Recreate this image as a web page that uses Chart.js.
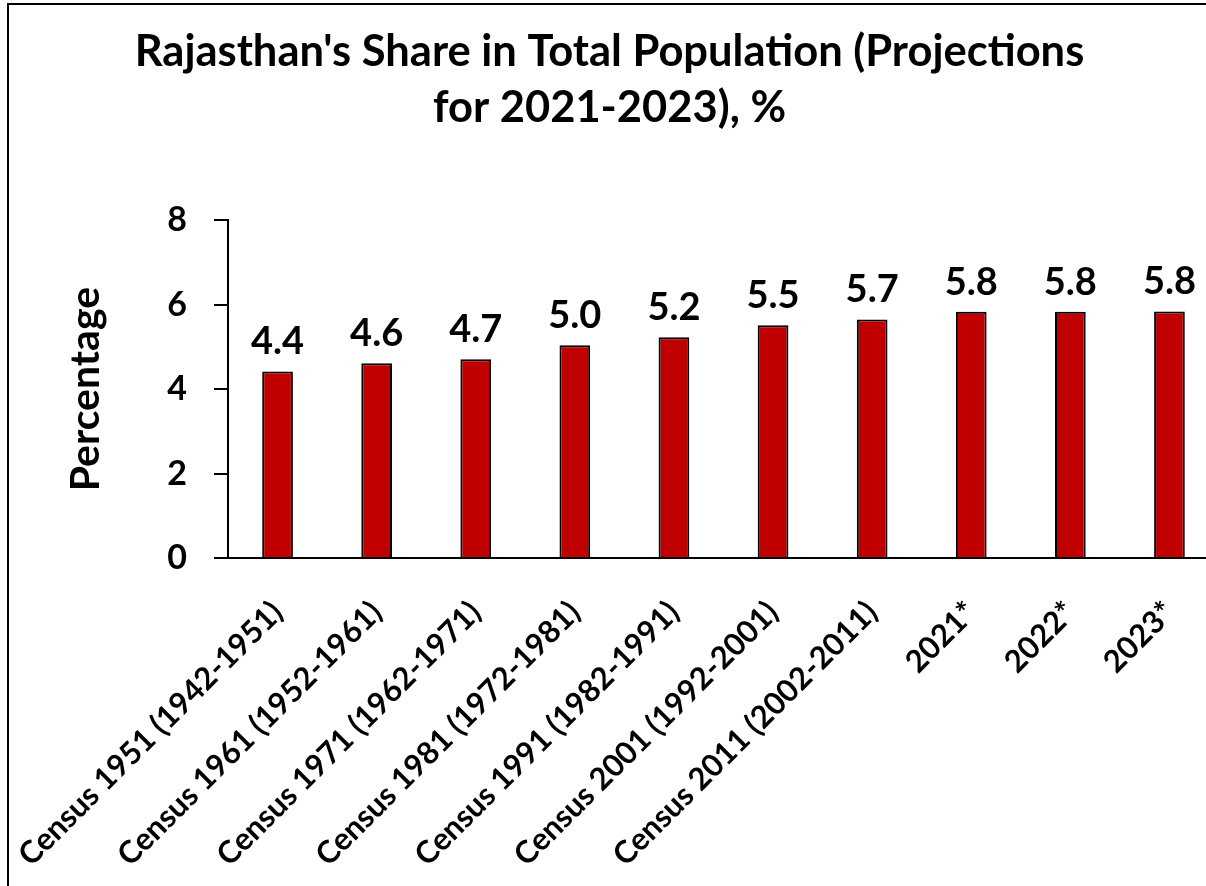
<!DOCTYPE html>
<html>
<head>
<meta charset="utf-8">
<script src="https://cdn.jsdelivr.net/npm/chart.js@4"></script>
<style>
    body { margin: 0; overflow: hidden; background: #fff; }
    #moldura { position: absolute; left: 7px; top: 3px; width: 2000px; height: 2000px; border-left: 2px solid #000; border-top: 2px solid #000; }
    #wrap { position: absolute; left: 0; top: 0; width: 1224px; height: 886px; }
</style>
</head>
<body>
<div id="moldura"></div>
<div id="wrap"><canvas id="partRaj"></canvas></div>
<script>
var categorias = ["Census 1951 (1942-1951)", "Census 1961 (1952-1961)", "Census 1971 (1962-1971)", "Census 1981 (1972-1981)",
    "Census 1991 (1982-1991)", "Census 2001 (1992-2001)", "Census 2011 (2002-2011)", "2021*", "2022*", "2023*"];
var valores = [4.42, 4.61, 4.71, 5.04, 5.23, 5.51, 5.65, 5.83, 5.83, 5.84];
var marcasY = [0, 2, 4, 6, 8];
var titulo = ["Rajasthan's Share in Total Population (Projections", "for 2021-2023), %"];

var fonte = "Lato, 'Open Sans', sans-serif";

// escreve o valor em cima de cada barra
var rotulosBarras = {
    id: 'rotulosBarras',
    afterDatasetsDraw(chart) {
        var ctx = chart.ctx;
        var meta = chart.getDatasetMeta(0);
        ctx.save();
        ctx.font = "bold 38px " + fonte;
        ctx.fillStyle = "#000";
        ctx.textAlign = "center";
        ctx.textBaseline = "alphabetic";
        meta.data.forEach((bar, i) => {
            ctx.fillText(valores[i].toFixed(1), bar.x, bar.y - 17);
        });
        ctx.restore();
    }
};

function gerarGrafico() {
    var ctx = document.querySelector('#partRaj').getContext('2d');
    var myChart = new Chart(ctx, {
        type: 'bar',
        data: {
            labels: categorias,
            datasets: [{
                data: valores,
                backgroundColor: "#C00000",
                borderColor: "#000",
                borderWidth: 2,
                barPercentage: 0.31,
                categoryPercentage: 1
            }]
        },
        options: {
            responsive: true,
            maintainAspectRatio: false,
            animation: false,
            layout: {
                padding: { left: 0, right: 5, top: 0, bottom: 8 }
            },
            plugins: {
                legend: { display: false },
                tooltip: { enabled: false },
                title: {
                    display: true,
                    text: titulo,
                    color: "#000",
                    font: { family: fonte, size: 43.5, weight: 'bold', lineHeight: 1.29 },
                    padding: { top: 24, bottom: 84 }
                }
            },
            scales: {
                x: {
                    grid: { display: false, drawTicks: false },
                    border: { display: true, color: "#000", width: 2 },
                    ticks: {
                        color: "#000",
                        font: { family: fonte, size: 31, weight: 'bold' },
                        maxRotation: 45,
                        minRotation: 45,
                        padding: 36,
                        autoSkip: false
                    },
                    afterFit(scale) {
                        scale.height = 320;
                        scale.paddingLeft = 0;
                        scale.paddingRight = 0;
                    }
                },
                y: {
                    min: marcasY[0],
                    max: marcasY[marcasY.length - 1],
                    grid: { display: true, drawOnChartArea: false, drawTicks: true, tickLength: 14, color: "#000", lineWidth: 2 },
                    border: { display: true, color: "#000", width: 2 },
                    ticks: {
                        stepSize: marcasY[1] - marcasY[0],
                        color: "#000",
                        padding: 27,
                        font: { family: fonte, size: 34, weight: 'bold' }
                    },
                    title: {
                        display: true,
                        text: "Percentage",
                        color: "#000",
                        font: { family: fonte, size: 41, weight: 'bold', lineHeight: 1 },
                        padding: { top: 65, bottom: 0 }
                    },
                    afterFit(scale) {
                        scale.width = 228;
                    }
                }
            }
        },
        plugins: [rotulosBarras]
    });
}

gerarGrafico();
</script>
</body>
</html>
